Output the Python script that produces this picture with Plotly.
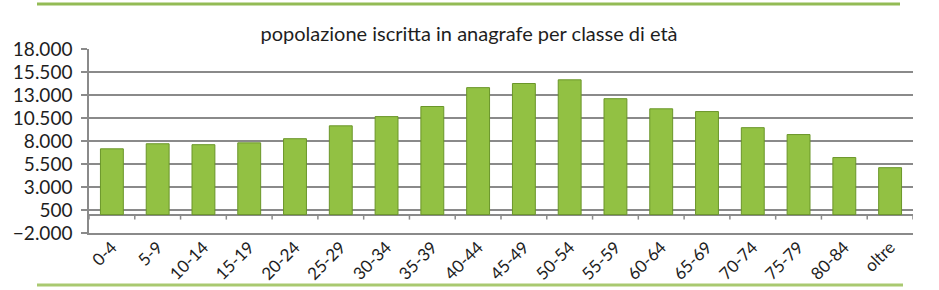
import plotly.graph_objects as go

categories = ["0-4", "5-9", "10-14", "15-19", "20-24", "25-29", "30-34", "35-39",
              "40-44", "45-49", "50-54", "55-59", "60-64", "65-69", "70-74", "75-79",
              "80-84", "oltre"]
popolazione = [7150, 7700, 7600, 7800, 8250, 9650, 10650, 11750, 13800, 14250,
               14650, 12600, 11500, 11200, 9450, 8700, 6200, 5100]
y_ticks = [-2000, 500, 3000, 5500, 8000, 10500, 13000, 15500, 18000]

FONT = "Lato"
GRID = "#8a8a8a"
TEXT = "#1e1e1e"

fig = go.Figure()
fig.add_trace(go.Bar(
    x=categories, y=popolazione,
    marker=dict(color="#92c143", line=dict(color="#6a9629", width=1)),
    width=0.5,
    hoverinfo="x+y",
))

# tick marks on the floor line (category boundaries)
shapes = []
for i in range(len(categories) + 1):
    shapes.append(dict(type="line", xref="x", yref="y", ysizemode="pixel", yanchor=0,
                       x0=i - 0.5, x1=i - 0.5, y0=0, y1=-5,
                       line=dict(color=GRID, width=1.5)))
# decorative green rules top and bottom
shapes.append(dict(type="line", xref="paper", yref="paper", layer="above",
                   x0=-52 / 824, x1=(900 - 89) / 824, y0=1 + (49 - 4) / 184, y1=1 + (49 - 4) / 184,
                   line=dict(color="#93bb55", width=3)))
shapes.append(dict(type="line", xref="paper", yref="paper", layer="above",
                   x0=-52 / 824, x1=(903 - 89) / 824, y0=-(285 - 233) / 184, y1=-(285 - 233) / 184,
                   line=dict(color="#a9c970", width=3)))

fig.update_layout(
    width=939, height=290,
    margin=dict(l=89, r=26, t=49, b=57, autoexpand=False),
    paper_bgcolor="white", plot_bgcolor="white",
    separators=",.",
    showlegend=False,
    bargap=0.48,
    font=dict(family=FONT, color=TEXT),
    title=dict(text="popolazione iscritta in anagrafe per classe di età",
               x=469 / 939, xanchor="center", y=1 - 34 / 290, yanchor="middle",
               font=dict(family=FONT, size=20, color=TEXT)),
    xaxis=dict(type="category", range=[-0.5, len(categories) - 0.5], automargin=False,
               showline=True, linecolor=GRID, linewidth=1.5, mirror=False,
               ticks="", tickangle=-45, ticklabelstandoff=-4,
               tickfont=dict(size=17, family=FONT, color=TEXT),
               showgrid=False),
    yaxis=dict(range=[-2000, 18000], tickvals=y_ticks, tickformat=",d", automargin=False,
               showgrid=True, gridcolor=GRID, gridwidth=1.5,
               zeroline=True, zerolinecolor=GRID, zerolinewidth=1.5,
               showline=True, linecolor=GRID, linewidth=1.5,
               ticks="outside", ticklen=6, tickcolor=GRID, tickwidth=1.5,
               ticklabelstandoff=5,
               tickfont=dict(size=19, family=FONT, color=TEXT)),
    shapes=shapes,
)

fig.write_html("out.html")
